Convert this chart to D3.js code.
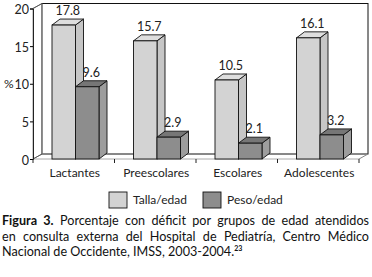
<!DOCTYPE html>
<html><head><meta charset="utf-8">
<script src="https://cdn.jsdelivr.net/npm/d3@7"></script>
<style>
body{margin:0;background:#fff;width:372px;height:277px;overflow:hidden;position:relative;font-family:Lato,"Open Sans",sans-serif;}
.cl{position:absolute;left:2px;width:367px;font-size:12.6px;line-height:15px;color:#111;white-space:nowrap;}
.j{text-align:justify;text-align-last:justify;white-space:normal;}
.cl b{font-weight:bold;}
</style></head><body>
<svg id="chart" width="372" height="210"></svg>
<div class="cl j" style="top:213px"><b>Figura 3.</b> Porcentaje con déficit por grupos de edad atendidos</div>
<div class="cl j" style="top:229px">en consulta externa del Hospital de Pediatría, Centro Médico</div>
<div class="cl" style="top:244px">Nacional de Occidente, IMSS, 2003-2004.<span style="font-size:7px;font-weight:bold;position:relative;top:-5px">23</span></div>
<script>
const categories = ["Lactantes","Preescolares","Escolares","Adolescentes"];
const series = ["Talla/edad","Peso/edad"];
const talla = [17.8,15.7,10.5,16.1];
const peso = [9.6,2.9,2.1,3.2];
const yTicks = [0,5,10,15,20];

const svg = d3.select("#chart");
const font = "Lato, 'Open Sans', sans-serif";
const dx = 9, dy = 5;       // depth of the plot box
const bdx = 8, bdy = 6;     // depth of the bars
const x0 = d3.scaleBand().domain(categories).range([33,359]);
const x1 = d3.scaleBand().domain(series).range([19,66]);
const y = d3.scaleLinear().domain([0,20]).range([159,8.5]);

const colors = {
  "Talla/edad": {front:"#d3d3d3", top:"#dedede", side:"#c6c6c6"},
  "Peso/edad": {front:"#8d8d8d", top:"#767676", side:"#9d9d9d"}
};

// walls
const L = 33, R = 359, T = y(20), B = y(0);
svg.append("polygon").attr("points",`${L},${T} ${L+dx},${T-dy} ${L+dx},${B-dy} ${L},${B}`)
  .attr("fill","#fff").attr("stroke","#999").attr("stroke-width",1);
svg.append("rect").attr("x",L+dx).attr("y",T-dy).attr("width",R-L).attr("height",B-T)
  .attr("fill","#fff").attr("stroke","#111").attr("stroke-width",1);
svg.append("line").attr("x1",L+dx).attr("x2",L+dx).attr("y1",T-dy).attr("y2",B-dy).attr("stroke","#999");
svg.append("line").attr("x1",L).attr("x2",R).attr("y1",B).attr("y2",B).attr("stroke","#aaa");
svg.append("line").attr("x1",R).attr("x2",R+dx).attr("y1",B).attr("y2",B-dy).attr("stroke","#888");
svg.append("line").attr("x1",L).attr("x2",L+dx).attr("y1",B).attr("y2",B-dy).attr("stroke","#555");
svg.append("line").attr("x1",L).attr("x2",L+dx).attr("y1",T).attr("y2",T-dy).attr("stroke","#555");

// y axis
const yAxis = d3.axisLeft(y).tickValues(yTicks).tickSize(3).tickPadding(1).tickFormat(d3.format("d"));
const ga = svg.append("g").attr("transform",`translate(${L},0)`).call(yAxis);
ga.select(".domain").attr("stroke","#222");
ga.selectAll("text").attr("font-family",font).attr("font-size",12.5).attr("fill","#222").attr("dy","0.4em");
svg.append("text").attr("x",4).attr("y",88).attr("font-family",font).attr("font-size",12).attr("fill","#222").text("%");

// x axis ticks
svg.selectAll("line.xt").data(categories.concat(["end"])).enter().append("line")
  .attr("x1",(d,i)=> i<categories.length ? x0(d) : R).attr("x2",(d,i)=> i<categories.length ? x0(d) : R)
  .attr("y1",B).attr("y2",B+4).attr("stroke","#222");
svg.selectAll("text.xl").data(categories).enter().append("text")
  .attr("x",d=>x0(d)+x0.bandwidth()/2+1).attr("y",177).attr("text-anchor","middle")
  .attr("font-family",font).attr("font-size",12).attr("fill","#222").text(d=>d);

// bars
const data = [];
categories.forEach((c,i)=>{
  data.push({cat:c, s:"Talla/edad", v:talla[i]});
  data.push({cat:c, s:"Peso/edad", v:peso[i]});
});
const w = x1.bandwidth();
const g = svg.selectAll("g.bar").data(data).enter().append("g");
g.each(function(d){
  const sel = d3.select(this);
  const xl = x0(d.cat)+x1(d.s), xr = xl+w, yt = y(d.v), yb = y(0);
  const c = colors[d.s];
  sel.append("polygon").attr("points",`${xr},${yt} ${xr+bdx},${yt-bdy} ${xr+bdx},${yb-bdy} ${xr},${yb}`)
    .attr("fill",c.side).attr("stroke","#111").attr("stroke-width",0.9).attr("stroke-linejoin","round");
  sel.append("polygon").attr("points",`${xl},${yt} ${xl+bdx},${yt-bdy} ${xr+bdx},${yt-bdy} ${xr},${yt}`)
    .attr("fill",c.top).attr("stroke","#111").attr("stroke-width",0.9).attr("stroke-linejoin","round");
  sel.append("rect").attr("x",xl).attr("y",yt).attr("width",w).attr("height",yb-yt)
    .attr("fill",c.front).attr("stroke","#111").attr("stroke-width",0.9);
  sel.append("text").attr("x",xl+(w+bdx)/2).attr("y",yt-bdy-4).attr("text-anchor","middle")
    .attr("font-family",font).attr("font-size",12.5).attr("fill","#222").text(d3.format(".1f")(d.v));
});

// legend
const lx = [109,203];
series.forEach((s,i)=>{
  svg.append("rect").attr("x",lx[i]).attr("y",192).attr("width",18).attr("height",16)
    .attr("fill",colors[s].front).attr("stroke","#111").attr("stroke-width",0.9);
  svg.append("text").attr("x",lx[i]+24).attr("y",204).attr("font-family",font).attr("font-size",12)
    .attr("fill","#222").text(s);
});
</script>
</body></html>
